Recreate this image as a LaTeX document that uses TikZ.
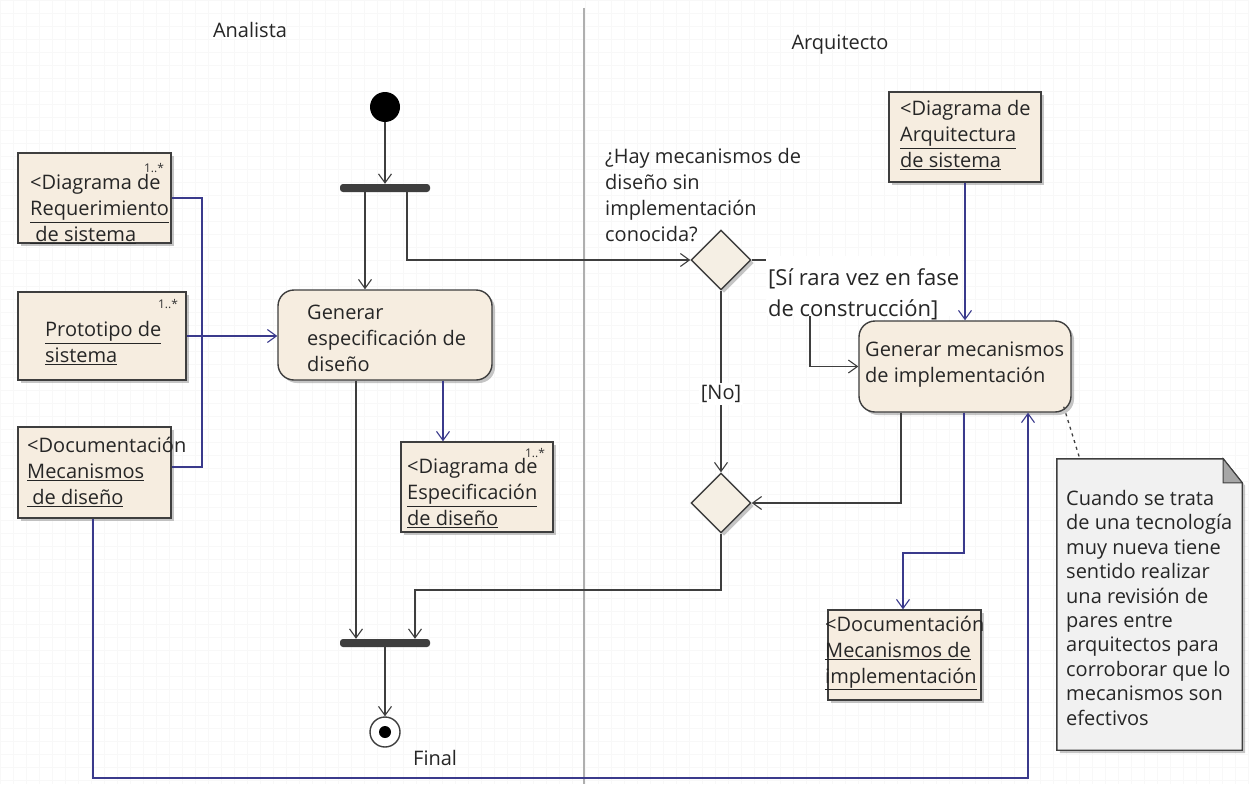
\documentclass[tikz,border=0pt]{standalone}
\usepackage{fontspec}
\setmainfont{Open Sans}
\usetikzlibrary{arrows.meta,shadows,shapes.geometric,calc}

\definecolor{objfill}{RGB}{246,237,224}
\definecolor{decfill}{RGB}{245,239,228}
\definecolor{edgegray}{RGB}{62,62,62}
\definecolor{flowblue}{RGB}{58,58,140}
\definecolor{notefill}{RGB}{241,241,241}
\definecolor{lanegray}{RGB}{175,175,175}
\definecolor{gridgray}{RGB}{248,248,248}

\tikzset{
  x=1pt, y=-1pt,
  shade box/.style={drop shadow={shadow xshift=3pt, shadow yshift=-3pt, fill=black!50, opacity=.45}},
  objbox/.style={rectangle, draw=edgegray, line width=1.4pt, fill=objfill, shade box, inner sep=0pt},
  actbox/.style={objbox, rounded corners=16pt},
  decision/.style={diamond, aspect=1, draw=edgegray, line width=1.4pt, fill=decfill, shade box,
    minimum width=60pt, minimum height=60pt, inner sep=0pt},
  syncbar/.style={rectangle, fill=edgegray, rounded corners=3pt, minimum width=90pt, minimum height=8pt, inner sep=0pt},
  txt/.style={inner sep=0pt, align=left, font=\fontsize{20}{26}\selectfont, text=black!85},
  mult/.style={inner sep=0pt, font=\fontsize{12}{12}\selectfont, text=black!80},
  flow/.style={draw=edgegray, line width=1.5pt, -{Straight Barb[length=9pt,width=13pt,line width=1.1pt]}},
  objflow/.style={flow, draw=flowblue},
  objline/.style={draw=flowblue, line width=1.5pt},
}

\begin{document}
\begin{tikzpicture}
\useasboundingbox (0,0) rectangle (1249,784);
\fill[white] (0,0) rectangle (1249,784);
\draw[gridgray, line width=0.6pt, step=13pt] (0,0) grid (1249,784);

% swimlane divider and headers
\draw[lanegray, line width=1.2pt] (584,8) -- (584,784);
\node[txt] (hanalista) at (250,30) {Analista};
\node[txt] (harquitecto) at (840,45) {Arquitecto};

% ---------- Analista lane ----------
\node[circle, fill=black, minimum size=30pt, inner sep=0pt] (init) at (385,107) {};
\node[syncbar] (fork) at (385,188) {};

\node[objbox, minimum width=153pt, minimum height=90pt] (req) at (94.5,198) {};
\node[txt, anchor=west] (reqt) at (30,209) {\textless Diagrama de\\\underline{Requerimiento}\\\underline{\ de sistema}};
\node[mult] (reqm) at (154,168) {1..*};

\node[objbox, minimum width=168pt, minimum height=88pt] (proto) at (102,336) {};
\node[txt, anchor=west] (protot) at (45,343) {\underline{Prototipo de}\\\underline{sistema}};
\node[mult] (protom) at (168,304) {1..*};

\node[objbox, minimum width=153pt, minimum height=91pt] (docd) at (94.5,472.5) {};
\node[txt, anchor=west] (docdt) at (27,472) {\textless Documentación\\\underline{Mecanismos}\\\underline{\ de diseño}};

\node[actbox, minimum width=214pt, minimum height=90pt] (act1) at (385,335) {};
\node[txt, anchor=west] (act1t) at (307,338) {Generar\\especificación de\\diseño};

\node[objbox, minimum width=152pt, minimum height=90pt] (espec) at (477,487) {};
\node[txt, anchor=west] (espect) at (407,493) {\textless Diagrama de\\\underline{Especificación}\\\underline{de diseño}};
\node[mult] (especm) at (535,453) {1..*};

\node[syncbar] (join) at (385,643) {};
\node[circle, draw=edgegray, line width=1.4pt, fill=white, minimum size=30pt, inner sep=0pt] (final) at (385,732) {};
\fill[black] (final.center) circle (6pt);
\node[txt, anchor=west] (finalt) at (413,758) {Final};

% ---------- Arquitecto lane ----------
\node[decision] (d1) at (721,260) {};
\node[txt, anchor=west] (q) at (605,195) {¿Hay mecanismos de\\diseño sin\\implementación\\conocida?};
\node[decision] (d2) at (721,503) {};

\node[objbox, minimum width=152pt, minimum height=90pt] (arch) at (965,137) {};
\node[txt, anchor=west] (archt) at (900,135) {\textless Diagrama de\\\underline{Arquitectura}\\\underline{de sistema}};

\node[actbox, minimum width=212pt, minimum height=91pt] (act2) at (965,366.5) {};
\node[txt, anchor=west] (act2t) at (865,365) {Generar mecanismos\\de implementación};

\node[objbox, minimum width=153pt, minimum height=90pt] (doci) at (904.5,655) {};
\node[txt, anchor=west] (docit) at (825,653) {\textless Documentación\\\underline{Mecanismos de}\\\underline{implementación}};

% note with folded corner
\node[inner sep=0pt, minimum width=185pt, minimum height=291pt] (note) at (1149.5,604.5) {};
\path[draw=edgegray, line width=1.4pt, fill=notefill, shade box]
  (note.north west) -- ($(note.north east)+(-19,0)$) -- ($(note.north east)+(0,24)$)
  -- (note.south east) -- (note.south west) -- cycle;
\path[draw=edgegray, line width=1pt, fill=black!35]
  ($(note.north east)+(-19,0)$) -- ($(note.north east)+(-19,24)$) -- ($(note.north east)+(0,24)$) -- cycle;
\node[txt, anchor=north west, font=\fontsize{20}{24.4}\selectfont] (notet) at (1066,490)
  {Cuando se trata\\de una tecnología\\muy nueva tiene\\sentido realizar\\una revisión de\\pares entre\\arquitectos para\\corroborar que lo\\mecanismos son\\efectivos};

% ---------- control flows ----------
\draw[flow] (init) -- (fork);
\draw[flow] ([xshift=-20pt]fork.south) -- (act1.north -| {$(fork.south)+(-20,0)$});
\draw[flow] ([xshift=22pt]fork.south) |- (d1.west);
\draw[flow] (act1.south -| 356,0) -- (join.north -| 356,0);
\draw[flow] (join) -- (final);
\draw[flow] (d1.south) -- (d2.north) node[pos=0.57, fill=white, txt, inner sep=2pt] (nolab) {[No]};
\draw[flow] (d2.south) |- (415,590) -- (join.north -| 415,0);
\draw[flow] (d1.east) -| (810,366.5) -- (act2.west);
\node[txt, anchor=north west, fill=white, inner xsep=2pt, inner ysep=0pt, font=\fontsize{22}{31}\selectfont] (guard) at (766,256)
  {\rule{0pt}{29pt}[Sí rara vez en fase\\\smash{de construcción]}};
\draw[flow] (act2.south -| 901,0) |- (d2.east);

% ---------- object flows ----------
\draw[objline] (req.east) -| (202,467) -- (docd.east |- 0,467);
\draw[objflow] (proto.east) -- (act1.west |- proto.east);
\draw[objflow] (act1.south -| 443,0) -- (espec.north -| 443,0);
\draw[objflow] (docd.south -| 93,0) |- (1028,778) -- (act2.south -| 1028,0);
\draw[objflow] (arch) -- (act2);
\draw[objflow] (act2.south -| 964,0) |- (903,553) -- (doci.north -| 903,0);

% note anchor
\draw[edgegray, line width=1.3pt, dash pattern=on 3pt off 4pt] ([shift={(-8,-6)}]act2.south east) -- ($(note.north west)+(23,0)$);
\end{tikzpicture}
\end{document}
